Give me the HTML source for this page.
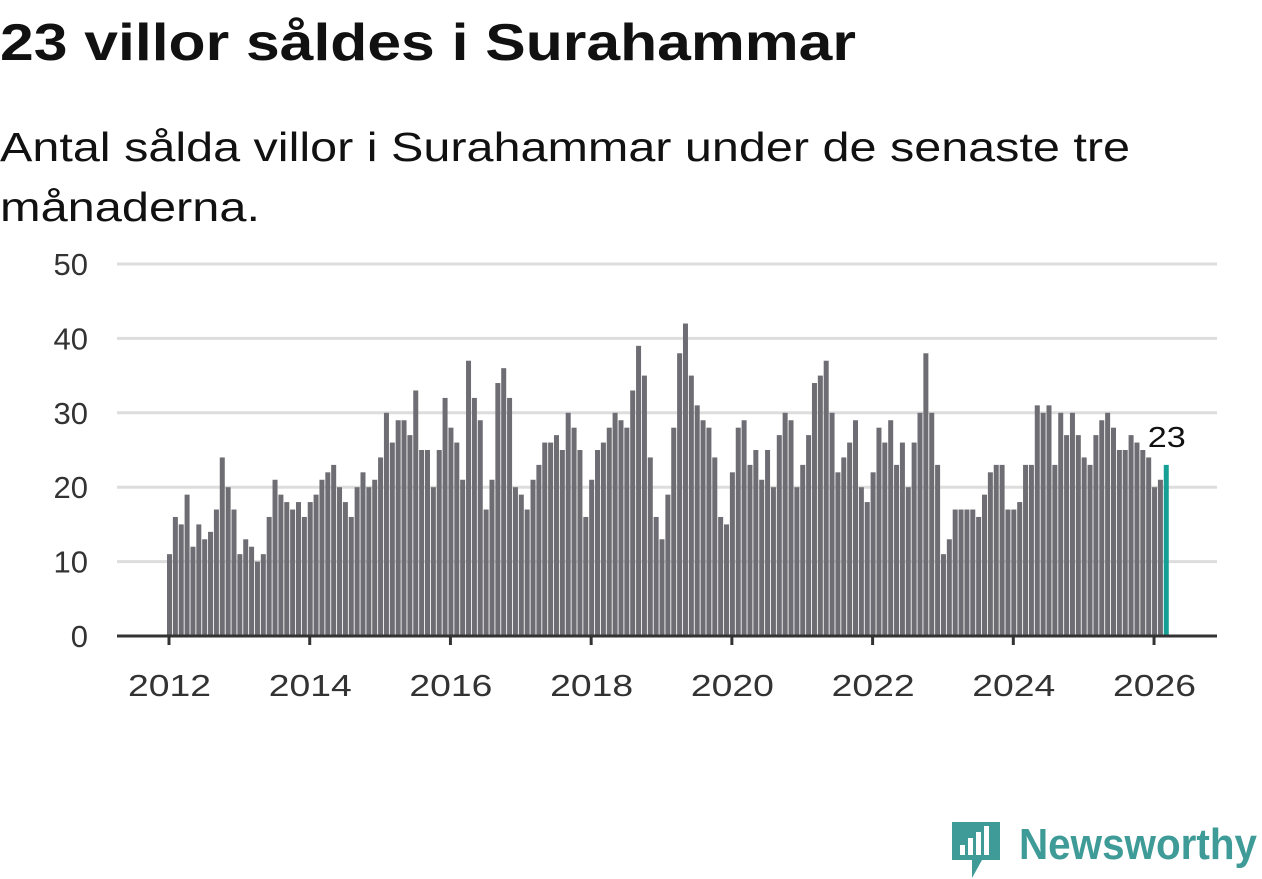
<!DOCTYPE html>
<html><head><meta charset="utf-8"><style>
body{margin:0;background:#fff;width:1262px;height:879px;overflow:hidden;font-family:"Liberation Sans","DejaVu Sans",sans-serif;}
</style></head><body>
<svg id="chart" width="1262" height="879" style="position:absolute;left:0;top:0">
<text x="0" y="60" font-size="52" font-weight="bold" fill="#111" textLength="856" lengthAdjust="spacingAndGlyphs">23 villor såldes i Surahammar</text>
<text x="0" y="161" font-size="41" fill="#111" textLength="1130" lengthAdjust="spacingAndGlyphs">Antal sålda villor i Surahammar under de senaste tre</text>
<text x="0" y="221" font-size="41" fill="#111" textLength="260" lengthAdjust="spacingAndGlyphs">månaderna.</text>
<g>
<path d="M952 822h48v38h-18l-10 18v-18H952z" fill="#3f9b97"/><rect x="960" y="845" width="5" height="10" fill="#fff"/><rect x="968" y="838" width="5" height="17" fill="#fff"/><rect x="976" y="832" width="5" height="23" fill="#fff"/><rect x="984" y="826" width="5" height="29" fill="#fff"/>
<text x="1019" y="859" font-size="44" font-weight="bold" fill="#3f9b97" textLength="238" lengthAdjust="spacingAndGlyphs">Newsworthy</text>
</g>
</svg>
<script>
const years=[2012,2013,2014,2015,2016,2017,2018,2019,2020,2021,2022,2023,2024,2025,2026];
const values=[
11,16,15,19,12,15,13,14,17,24,20,17,
11,13,12,10,11,16,21,19,18,17,18,16,
18,19,21,22,23,20,18,16,20,22,20,21,
24,30,26,29,29,27,33,25,25,20,25,32,
28,26,21,37,32,29,17,21,34,36,32,20,
19,17,21,23,26,26,27,25,30,28,25,16,
21,25,26,28,30,29,28,33,39,35,24,16,
13,19,28,38,42,35,31,29,28,24,16,15,
22,28,29,23,25,21,25,20,27,30,29,20,
23,27,34,35,37,30,22,24,26,29,20,18,
22,28,26,29,23,26,20,26,30,38,30,23,
11,13,17,17,17,17,16,19,22,23,23,17,
17,18,23,23,31,30,31,23,30,27,30,27,
24,23,27,29,30,28,25,25,27,26,25,24,
20,21,23];
const yTicks=[0,10,20,30,40,50];
const xTicks=[2012,2014,2016,2018,2020,2022,2024,2026];
const NS="http://www.w3.org/2000/svg";
const svg=document.getElementById('chart');
const y=v=>636-v*7.44;
const x=t=>169+(t-2012)*70.36;
function mk(tag,attrs){const e=document.createElementNS(NS,tag);for(const k in attrs)e.setAttribute(k,attrs[k]);svg.appendChild(e);return e;}
yTicks.forEach(v=>{
  if(v>0){const g=mk('line',{x1:117,x2:1217,y1:y(v),y2:y(v),stroke:'#ddd','stroke-width':3});
  
  }
  const t=mk('text',{x:88,y:y(v)+11,'text-anchor':'end','font-size':31,fill:'#333'});t.textContent=v;
  
  
});
values.forEach((v,i)=>{
  const last=i===values.length-1;
  const b=mk('rect',{x:x(2012+i/12)-2,y:y(v),width:5,height:v*7.44,fill:last?'#14a095':'#6e6d73'});
  
  
  if(last){const l=mk('text',{x:x(2012+i/12)-18,y:y(v)-18,'font-size':29,fill:'#111',textLength:38,lengthAdjust:'spacingAndGlyphs'});l.textContent=v;
  
  }
});
const ax=mk('line',{x1:117,x2:1217,y1:636,y2:636,stroke:'#333','stroke-width':3});


xTicks.forEach(yr=>{
  const tk=mk('line',{x1:x(yr),x2:x(yr),y1:636,y2:645,stroke:'#333','stroke-width':3});
  
  
  const t=mk('text',{x:x(yr)-41,y:696,'font-size':31,fill:'#333',textLength:83,lengthAdjust:'spacingAndGlyphs'});t.textContent=yr;
  
  
});
</script>
</body></html>
